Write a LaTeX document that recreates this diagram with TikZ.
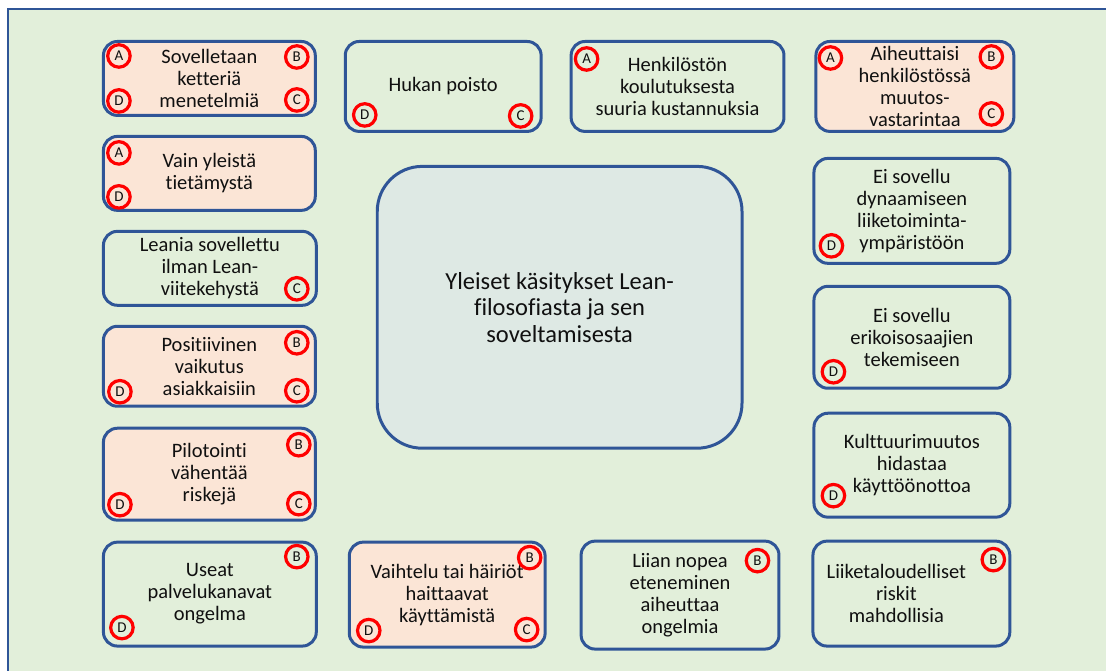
\documentclass[tikz,border=0pt]{standalone}
\usepackage{fontspec}
\setmainfont{Carlito}[Ligatures=NoCommon]
\definecolor{bg}{HTML}{E2EFDA}
\definecolor{peach}{HTML}{FBE5D6}
\definecolor{hubfill}{HTML}{DEE9E4}
\definecolor{edge}{HTML}{2F5597}
\definecolor{tagred}{HTML}{FF0000}
\definecolor{ink}{HTML}{101010}

\tikzset{
  card/.style={draw=edge, line width=3pt, rounded corners=14pt, inner sep=0pt,
    align=center, text=ink, font=\fontsize{20.5}{22}\selectfont},
  plain/.style={card, fill=bg},
  warm/.style={card, fill=peach},
  hub/.style={card, fill=hubfill, rounded corners=45pt, font=\fontsize{24.5}{26.5}\selectfont},
  tag/.style={circle, draw=tagred, line width=3.2pt, minimum size=22.5pt, inner sep=0pt,
    text=ink, font=\fontsize{15}{15}\selectfont}
}

\begin{document}
\begin{tikzpicture}[x=1pt,y=-1pt]
  % page and panel
  \fill[white] (0,0) rectangle (1107,671);
  \fill[bg] (8,9) rectangle (1107,671);
  \draw[edge, line width=1.5pt] (8,671) -- (8,9) -- (1107,9);
  \useasboundingbox (0,0) rectangle (1107,671);

  % central theme
  \node[hub, minimum width=365pt, minimum height=282pt] (hub) at (560,307.5)
    {Yleiset käsitykset Lean-\\filosofiasta ja sen\\soveltamisesta};

  % top row
  \node[warm, minimum width=212pt, minimum height=74pt] (c1) at (209.5,78.5)
    {Sovelletaan\\ketteriä\\menetelmiä};
  \node[plain, minimum width=196pt, minimum height=90pt] (c2) at (443.5,86.5)
    {Hukan poisto};
  \node[plain, minimum width=213pt, minimum height=90pt] (c3) at (678,86.5)
    {Henkilöstön\\koulutuksesta\\suuria kustannuksia};
  \node[warm, minimum width=198pt, minimum height=90pt] (c4) at (915.5,86.5)
    {Aiheuttaisi\\henkilöstössä\\muutos-\\vastarintaa};

  % left column
  \node[warm, minimum width=212pt, minimum height=74pt] (c5) at (209.5,173.5)
    {Vain yleistä\\tietämystä};
  \node[plain, minimum width=213pt, minimum height=74pt] (c7) at (210,268.5)
    {Leania sovellettu\\ilman Lean-\\viitekehystä};
  \node[warm, minimum width=212pt, minimum height=80pt] (c8) at (209.5,366.5)
    {Positiivinen\\vaikutus\\asiakkaisiin};
  \node[warm, minimum width=212pt, minimum height=92pt] (c9) at (209.5,474.5)
    {Pilotointi\\vähentää\\riskejä};

  % right column
  \node[plain, minimum width=196pt, minimum height=105pt] (c6) at (912.5,211)
    {Ei sovellu\\dynaamiseen\\liiketoiminta-\\ympäristöön};
  \node[plain, minimum width=196pt, minimum height=102pt] (c10) at (912.5,337.5)
    {Ei sovellu\\erikoisosaajien\\tekemiseen};
  \node[plain, minimum width=196pt, minimum height=104pt] (c11) at (912.5,465.5)
    {Kulttuurimuutos\\hidastaa\\käyttöönottoa};

  % bottom row
  \node[plain, minimum width=213pt, minimum height=104pt] (c12) at (210,594.5)
    {Useat\\palvelukanavat\\ongelma};
  \node[warm, minimum width=196pt, minimum height=105pt] (c13) at (447.5,595)
    {Vaihtelu tai häiriöt\\haittaavat\\käyttämistä};
  \node[plain, minimum width=198pt, minimum height=108pt] (c14) at (680.5,595.5)
    {Liian nopea\\eteneminen\\aiheuttaa\\ongelmia};
  \node[plain, minimum width=197pt, minimum height=105pt] (c15) at (912,594)
    {};
  \node[align=center, text=ink, font=\fontsize{20.5}{22}\selectfont, inner sep=0pt]
    (c15t) at (897,594) {Liiketaloudelliset\\riskit\\mahdollisia};

  % category tags
  \node[tag] (t1a) at (119,56) {A};
  \node[tag] (t1b) at (297,57) {B};
  \node[tag] (t1d) at (119,101) {D};
  \node[tag] (t1c) at (297,100) {C};

  \node[tag] (t2d) at (365,115) {D};
  \node[tag] (t2c) at (521,116) {C};

  \node[tag] (t3a) at (587,59) {A};

  \node[tag] (t4a) at (831,58) {A};
  \node[tag] (t4b) at (992,57) {B};
  \node[tag] (t4c) at (992,114) {C};

  \node[tag] (t5a) at (119,153) {A};
  \node[tag] (t5d) at (119,197) {D};

  \node[tag] (t6d) at (832,246) {D};

  \node[tag] (t7c) at (297,289) {C};

  \node[tag] (t8b) at (297,343) {B};
  \node[tag] (t8d) at (120,392) {D};
  \node[tag] (t8c) at (297,391) {C};

  \node[tag] (t9b) at (299,445) {B};
  \node[tag] (t9d) at (120,505) {D};
  \node[tag] (t9c) at (299,504) {C};

  \node[tag] (t10d) at (834,372) {D};
  \node[tag] (t11d) at (834,496) {D};

  \node[tag] (t12b) at (297,557) {B};
  \node[tag] (t12d) at (122,628) {D};

  \node[tag] (t13b) at (530,558) {B};
  \node[tag] (t13d) at (369,631) {D};
  \node[tag] (t13c) at (527,630) {C};

  \node[tag] (t14b) at (758,561) {B};
  \node[tag] (t15b) at (994,560) {B};
\end{tikzpicture}
\end{document}
